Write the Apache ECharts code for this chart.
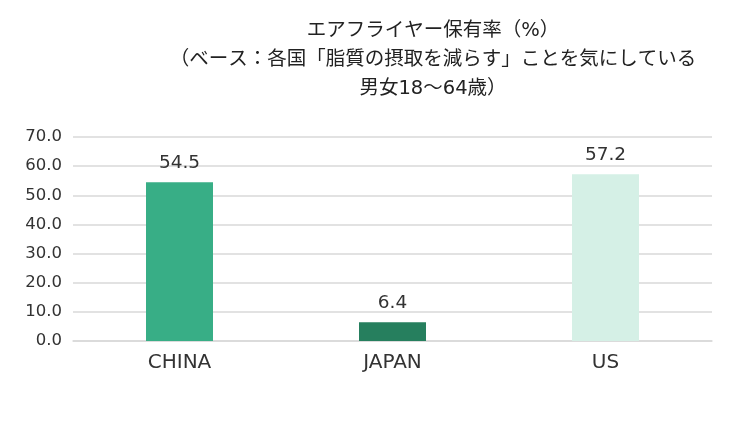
<!DOCTYPE html>
<html>
<head>
    <meta charset="utf-8">
    <title>Air fryer ownership</title>
    <script src="https://cdn.jsdelivr.net/npm/echarts@6/dist/echarts.min.js"></script>
    <style>
        html, body { margin: 0; padding: 0; background: #fff; }
        #chart { width: 737px; height: 423px; }
    </style>
</head>
<body>
    <div id="chart"></div>
    <script>
        const countries = ['CHINA', 'JAPAN', 'US'];
        const ownership = [54.5, 6.4, 57.2];
        const barColors = ['#38ae86', '#267f5e', '#d5f0e6'];
        const titleText = 'エアフライヤー保有率（%）\n（ベース：各国「脂質の摂取を減らす」ことを気にしている\n男女18～64歳）';

        // wide latin glyphs first, CJK falls through to Noto
        const font = '"DejaVu Sans", "Noto Sans CJK JP", sans-serif';
        const chart = echarts.init(document.getElementById('chart'));

        chart.setOption({
            animation: false,
            title: {
                text: titleText,
                left: 428,
                top: 11,
                textAlign: 'center',
                textStyle: {
                    fontFamily: font,
                    fontSize: 19.5,
                    fontWeight: 'normal',
                    color: '#222',
                    lineHeight: 29
                }
            },
            grid: { left: 73, right: 25, top: 137, bottom: 82, containLabel: false },
            xAxis: {
                type: 'category',
                data: countries,
                axisLine: { lineStyle: { color: '#d9d9d9', width: 1.5 } },
                axisTick: { show: false },
                axisLabel: { fontFamily: font, fontSize: 20, color: '#333', margin: 12 }
            },
            yAxis: {
                type: 'value',
                min: 0,
                max: 70,
                interval: 10,
                axisLine: { show: false },
                axisTick: { show: false },
                axisLabel: {
                    fontFamily: font, fontSize: 16.5, color: '#333', margin: 11,
                    formatter: v => v.toFixed(1)
                },
                splitLine: { lineStyle: { color: '#d9d9d9', width: 1.5 } }
            },
            series: [{
                type: 'bar',
                barWidth: 67,
                data: ownership.map((v, i) => ({ value: v, itemStyle: { color: barColors[i] } })),
                label: {
                    show: true,
                    position: 'top',
                    distance: 10,
                    fontFamily: font,
                    fontSize: 18.5,
                    color: '#333',
                    formatter: p => p.value.toFixed(1)
                }
            }]
        });
    </script>
</body>
</html>
